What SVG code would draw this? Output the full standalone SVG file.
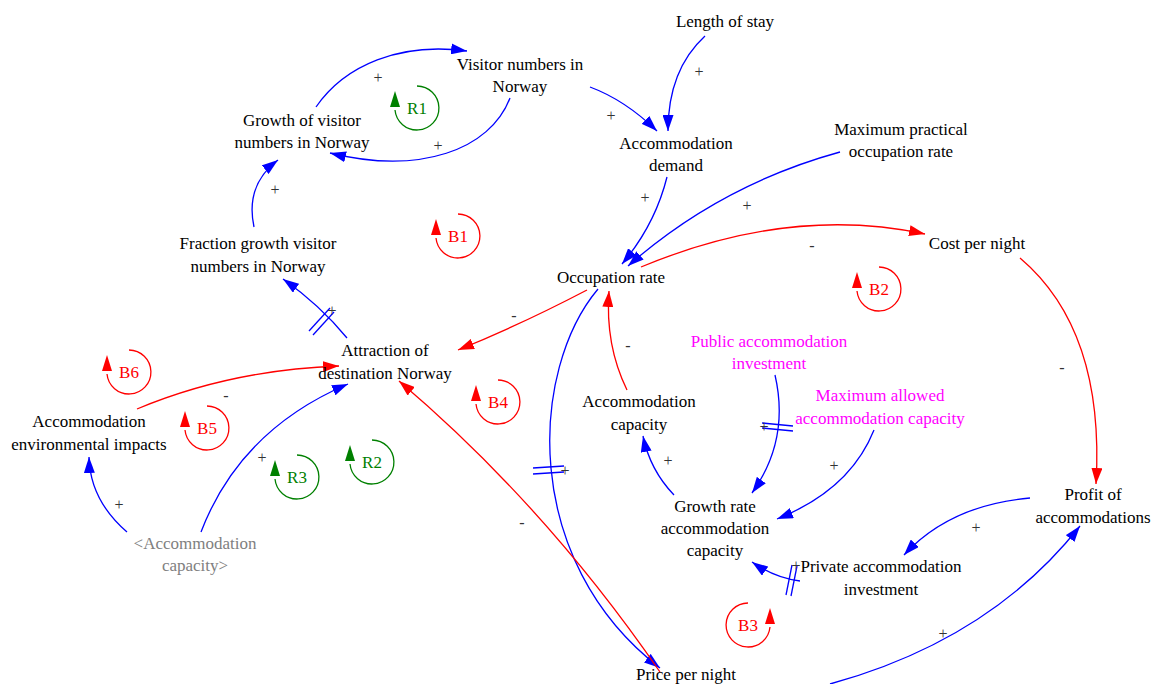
<svg xmlns="http://www.w3.org/2000/svg" width="1152" height="684" viewBox="0 0 1152 684">
  <style>
    text { font-family: "Liberation Serif", Tinos, "Noto Serif", "DejaVu Serif", Times, serif; font-size: 17px; text-anchor: middle; }
    .node { fill: #000000; }
    .shadow { fill: #808080; }
    .param { fill: #FF00FF; }
    .sign { fill: #333333; font-size: 16px; }
    .pos { fill: none; stroke: #0000FF; stroke-width: 1.3; marker-end: url(#arrow-blue); }
    .neg { fill: none; stroke: #FF0000; stroke-width: 1.3; marker-end: url(#arrow-red); }
    .delay-b { stroke: #0000FF; stroke-width: 1.3; }
    .loop-r { fill: none; stroke: #FF0000; stroke-width: 1.3; }
    .loop-g { fill: none; stroke: #008000; stroke-width: 1.3; }
    .lbl-r { fill: #FF0000; }
    .lbl-g { fill: #008000; }
  </style>
  <defs>
    <marker id="arrow-blue" viewBox="0 0 16 11" refX="16" refY="5.5" markerWidth="16" markerHeight="11" markerUnits="userSpaceOnUse" orient="auto">
      <path d="M0,0 L16,5.5 L0,11 z" fill="#0000FF"/>
    </marker>
    <marker id="arrow-red" viewBox="0 0 16 11" refX="16" refY="5.5" markerWidth="16" markerHeight="11" markerUnits="userSpaceOnUse" orient="auto">
      <path d="M0,0 L16,5.5 L0,11 z" fill="#FF0000"/>
    </marker>
    <!-- loop symbol: clockwise arc with an upward arrow on the left -->
    <g id="loop-red">
      <path class="loop-r" d="M0,-22 A22,22 0 1,1 -22,2"/>
      <polygon points="-22,-17 -27,-1 -17,-1" fill="#FF0000"/>
    </g>
    <g id="loop-green">
      <path class="loop-g" d="M0,-22 A22,22 0 1,1 -22,2"/>
      <polygon points="-22,-17 -27,-1 -17,-1" fill="#008000"/>
    </g>
  </defs>

  <!-- connectors -->
  <g id="connectors">
    <path class="pos" d="M316,107 C345,65 400,42 467,51"/>
    <path class="pos" d="M510,98 C490,150 420,175 330,153"/>
    <path class="pos" d="M590,87 Q625,100 657,131"/>
    <path class="pos" d="M705,36 Q668,70 668,131"/>
    <path class="pos" d="M667,177 Q655,225 622,264"/>
    <path class="pos" d="M840,152 Q720,185 628,266"/>
    <path class="neg" d="M641,267 Q790,205 925,234"/>
    <path class="neg" d="M1020,258 Q1105,330 1096,484"/>
    <path class="pos" d="M1030,498 Q950,505 904,555"/>
    <path class="pos" d="M830,684 Q990,640 1080,526"/>
    <path class="pos" d="M800,581 Q775,578 752,562"/>
    <path class="pos" d="M775,375 Q790,440 752,493"/>
    <path class="pos" d="M874,430 Q850,490 777,519"/>
    <path class="pos" d="M674,495 Q650,470 643,436"/>
    <path class="neg" d="M627,390 Q605,345 609,291"/>
    <path class="pos" d="M598,289 C530,370 520,560 660,668"/>
    <path class="neg" d="M660,672 Q545,505 399,381"/>
    <path class="pos" d="M347,338 Q320,305 283,279"/>
    <path class="pos" d="M254,227 Q245,185 278,160"/>
    <path class="neg" d="M587,290 Q520,325 458,350"/>
    <path class="neg" d="M137,409 Q230,370 339,366"/>
    <path class="pos" d="M127,532 Q90,500 89,457"/>
    <path class="pos" d="M201,532 Q240,430 348,384"/>

    <!-- delay marks -->
    <line class="delay-b" x1="309" y1="331" x2="330" y2="308"/>
    <line class="delay-b" x1="313" y1="335" x2="334" y2="312"/>
    <line class="delay-b" x1="533" y1="468" x2="564" y2="466"/>
    <line class="delay-b" x1="533" y1="474" x2="564" y2="472"/>
    <line class="delay-b" x1="762" y1="423" x2="793" y2="426"/>
    <line class="delay-b" x1="762" y1="428" x2="793" y2="431"/>
    <line class="delay-b" x1="786" y1="595" x2="792" y2="565"/>
    <line class="delay-b" x1="791" y1="596" x2="797" y2="566"/>

    <!-- polarity signs -->
    <text class="sign" x="378" y="83">+</text>
    <text class="sign" x="438" y="151">+</text>
    <text class="sign" x="611" y="121">+</text>
    <text class="sign" x="699" y="77">+</text>
    <text class="sign" x="645" y="203">+</text>
    <text class="sign" x="747" y="211">+</text>
    <text class="sign" x="812" y="251">-</text>
    <text class="sign" x="1062" y="373">-</text>
    <text class="sign" x="976" y="533">+</text>
    <text class="sign" x="943" y="639">+</text>
    <text class="sign" x="796" y="571">+</text>
    <text class="sign" x="764" y="432">+</text>
    <text class="sign" x="834" y="471">+</text>
    <text class="sign" x="668" y="466">+</text>
    <text class="sign" x="628" y="351">-</text>
    <text class="sign" x="565" y="476">+</text>
    <text class="sign" x="522" y="528">-</text>
    <text class="sign" x="332" y="316">+</text>
    <text class="sign" x="275" y="195">+</text>
    <text class="sign" x="514" y="321">-</text>
    <text class="sign" x="226" y="401">-</text>
    <text class="sign" x="119" y="510">+</text>
    <text class="sign" x="262" y="463">+</text>
  </g>

  <!-- variables -->
  <g id="visitor-numbers"><text class="node" x="520" y="70">Visitor numbers in</text><text class="node" x="520" y="92">Norway</text></g>
  <g id="length-of-stay"><text class="node" x="725" y="27">Length of stay</text></g>
  <g id="growth-visitor-numbers"><text class="node" x="302" y="126">Growth of visitor</text><text class="node" x="302" y="148">numbers in Norway</text></g>
  <g id="accommodation-demand"><text class="node" x="676" y="149">Accommodation</text><text class="node" x="676" y="171">demand</text></g>
  <g id="max-practical-occupation"><text class="node" x="901" y="135">Maximum practical</text><text class="node" x="901" y="157">occupation rate</text></g>
  <g id="fraction-growth"><text class="node" x="258" y="249">Fraction growth visitor</text><text class="node" x="258" y="272">numbers in Norway</text></g>
  <g id="occupation-rate"><text class="node" x="611" y="283">Occupation rate</text></g>
  <g id="cost-per-night"><text class="node" x="977" y="249">Cost per night</text></g>
  <g id="attraction"><text class="node" x="385" y="356">Attraction of</text><text class="node" x="385" y="379">destination Norway</text></g>
  <g id="public-investment"><text class="param" x="769" y="347">Public accommodation</text><text class="param" x="769" y="369">investment</text></g>
  <g id="max-allowed-capacity"><text class="param" x="880" y="401">Maximum allowed</text><text class="param" x="880" y="424">accommodation capacity</text></g>
  <g id="accommodation-capacity"><text class="node" x="639" y="407">Accommodation</text><text class="node" x="639" y="430">capacity</text></g>
  <g id="environmental-impacts"><text class="node" x="89" y="427">Accommodation</text><text class="node" x="89" y="450">environmental impacts</text></g>
  <g id="growth-rate-capacity"><text class="node" x="715" y="512">Growth rate</text><text class="node" x="715" y="534">accommodation</text><text class="node" x="715" y="556">capacity</text></g>
  <g id="profit"><text class="node" x="1093" y="500">Profit of</text><text class="node" x="1093" y="523">accommodations</text></g>
  <g id="capacity-shadow"><text class="shadow" x="195" y="549">&lt;Accommodation</text><text class="shadow" x="195" y="571">capacity&gt;</text></g>
  <g id="private-investment"><text class="node" x="881" y="572">Private accommodation</text><text class="node" x="881" y="595">investment</text></g>
  <g id="price-per-night"><text class="node" x="686" y="680">Price per night</text></g>

  <!-- feedback loop markers -->
  <g id="loop-R1"><use href="#loop-green" x="417" y="108"/><text class="lbl-g" x="417" y="114">R1</text></g>
  <g id="loop-B1"><use href="#loop-red" x="458" y="236"/><text class="lbl-r" x="458" y="242">B1</text></g>
  <g id="loop-B2"><use href="#loop-red" x="879" y="289"/><text class="lbl-r" x="879" y="295">B2</text></g>
  <g id="loop-B4"><use href="#loop-red" x="498" y="402"/><text class="lbl-r" x="498" y="408">B4</text></g>
  <g id="loop-B6"><use href="#loop-red" x="129" y="372"/><text class="lbl-r" x="129" y="378">B6</text></g>
  <g id="loop-B5"><use href="#loop-red" x="207" y="428"/><text class="lbl-r" x="207" y="434">B5</text></g>
  <g id="loop-R3"><use href="#loop-green" x="297" y="477"/><text class="lbl-g" x="297" y="483">R3</text></g>
  <g id="loop-R2"><use href="#loop-green" x="372" y="462"/><text class="lbl-g" x="372" y="468">R2</text></g>
  <g id="loop-B3"><use href="#loop-red" transform="translate(748,625) scale(-1,1)"/><text class="lbl-r" x="748" y="631">B3</text></g>
</svg>
